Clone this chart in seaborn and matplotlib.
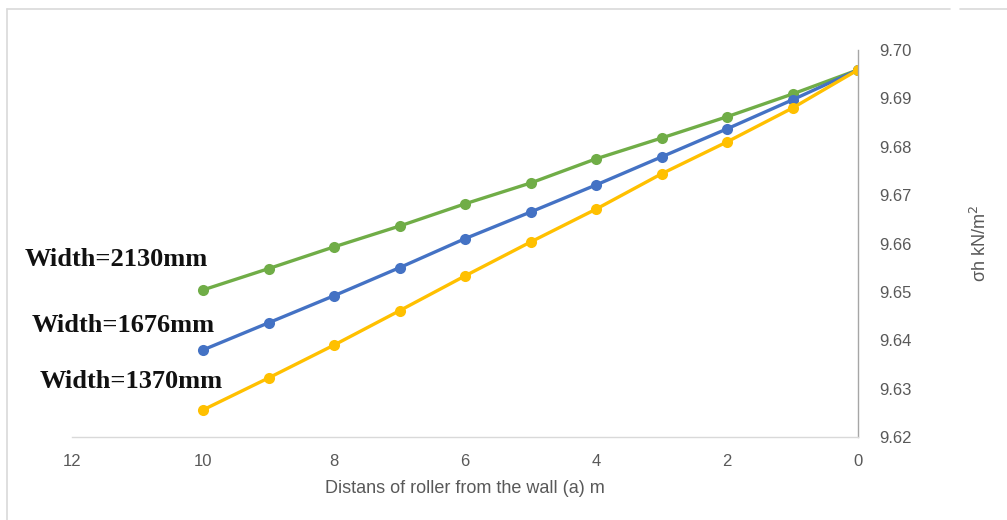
import matplotlib
matplotlib.use("Agg")
import matplotlib.pyplot as plt
import seaborn as sns
import pandas as pd
from matplotlib.lines import Line2D

distance = [10, 9, 8, 7, 6, 5, 4, 3, 2, 1, 0]
w2130 = [9.6504, 9.6548, 9.6593, 9.6636, 9.6682, 9.6725, 9.6775, 9.6818, 9.6862, 9.6909, 9.6959]
w1676 = [9.6380, 9.6436, 9.6492, 9.6550, 9.6610, 9.6665, 9.6721, 9.6779, 9.6837, 9.6897, 9.6959]
w1370 = [9.6256, 9.6322, 9.6390, 9.6461, 9.6533, 9.6603, 9.6671, 9.6744, 9.6810, 9.6880, 9.6959]
series_names = ["Width=2130mm", "Width=1676mm", "Width=1370mm"]
colors = ["#70AD47", "#4472C4", "#FFC000"]
x_ticks = [12, 10, 8, 6, 4, 2, 0]
y_ticks = [9.62, 9.63, 9.64, 9.65, 9.66, 9.67, 9.68, 9.69, 9.70]

frames = []
for name, vals in zip(series_names, [w2130, w1676, w1370]):
    frames.append(pd.DataFrame({"x": distance, "y": vals, "series": name}))
df = pd.concat(frames, ignore_index=True)

sns.set_style("white")
plt.rcParams["font.family"] = ["Liberation Sans Narrow", "Liberation Sans", "DejaVu Sans"]

fig = plt.figure(figsize=(10.07, 5.20), dpi=100)
ax = fig.add_axes([72/1007, 83/520, (858-72)/1007, (437-50)/520])

sns.lineplot(data=df, x="x", y="y", hue="series", hue_order=series_names,
             palette=colors, marker="o", markersize=8, markeredgewidth=0,
             linewidth=2.4, ax=ax, legend=False, sort=False)

ax.set_xlim(12, 0)
ax.set_ylim(9.62, 9.70)
ax.set_xticks(x_ticks)
ax.set_xticklabels([str(t) for t in x_ticks])
ax.set_yticks(y_ticks)
ax.set_yticklabels([f"{t:.2f}" for t in y_ticks])
ax.yaxis.tick_right()
ax.yaxis.set_label_position("right")
ax.tick_params(axis="both", length=0, labelsize=12, labelcolor="#595959")
ax.tick_params(axis="y", pad=15)
ax.tick_params(axis="x", pad=12)

for s in ["top", "left"]:
    ax.spines[s].set_visible(False)
ax.spines["right"].set_color("#A6A6A6")
ax.spines["bottom"].set_color("#D9D9D9")
ax.spines["right"].set_linewidth(1.0)
ax.spines["bottom"].set_linewidth(1.0)

ax.set_xlabel("Distans of roller from the wall (a) m", fontsize=13, color="#595959", labelpad=8)
ax.set_ylabel(r"σh kN/m$^2$", fontsize=13, color="#595959", labelpad=42)

label_pos = [(25, 260), (32, 325), (40, 381)]
for name, (px, py) in zip(series_names, label_pos):
    fig.text(px/1007, 1 - py/520, name, fontsize=19, fontweight="bold",
             family="Liberation Serif", color="#111111", va="center", ha="left")

top_y = 1 - 9/520
fig.lines.append(Line2D([7/1007, 950/1007], [top_y, top_y],
                        transform=fig.transFigure, color="#D9D9D9", linewidth=1.2))
fig.lines.append(Line2D([960/1007, 1.0], [top_y, top_y],
                        transform=fig.transFigure, color="#D9D9D9", linewidth=1.2))
fig.lines.append(Line2D([7/1007, 7/1007], [0, top_y],
                        transform=fig.transFigure, color="#D9D9D9", linewidth=1.2))

fig.savefig("out.png", dpi=100, facecolor="white")
